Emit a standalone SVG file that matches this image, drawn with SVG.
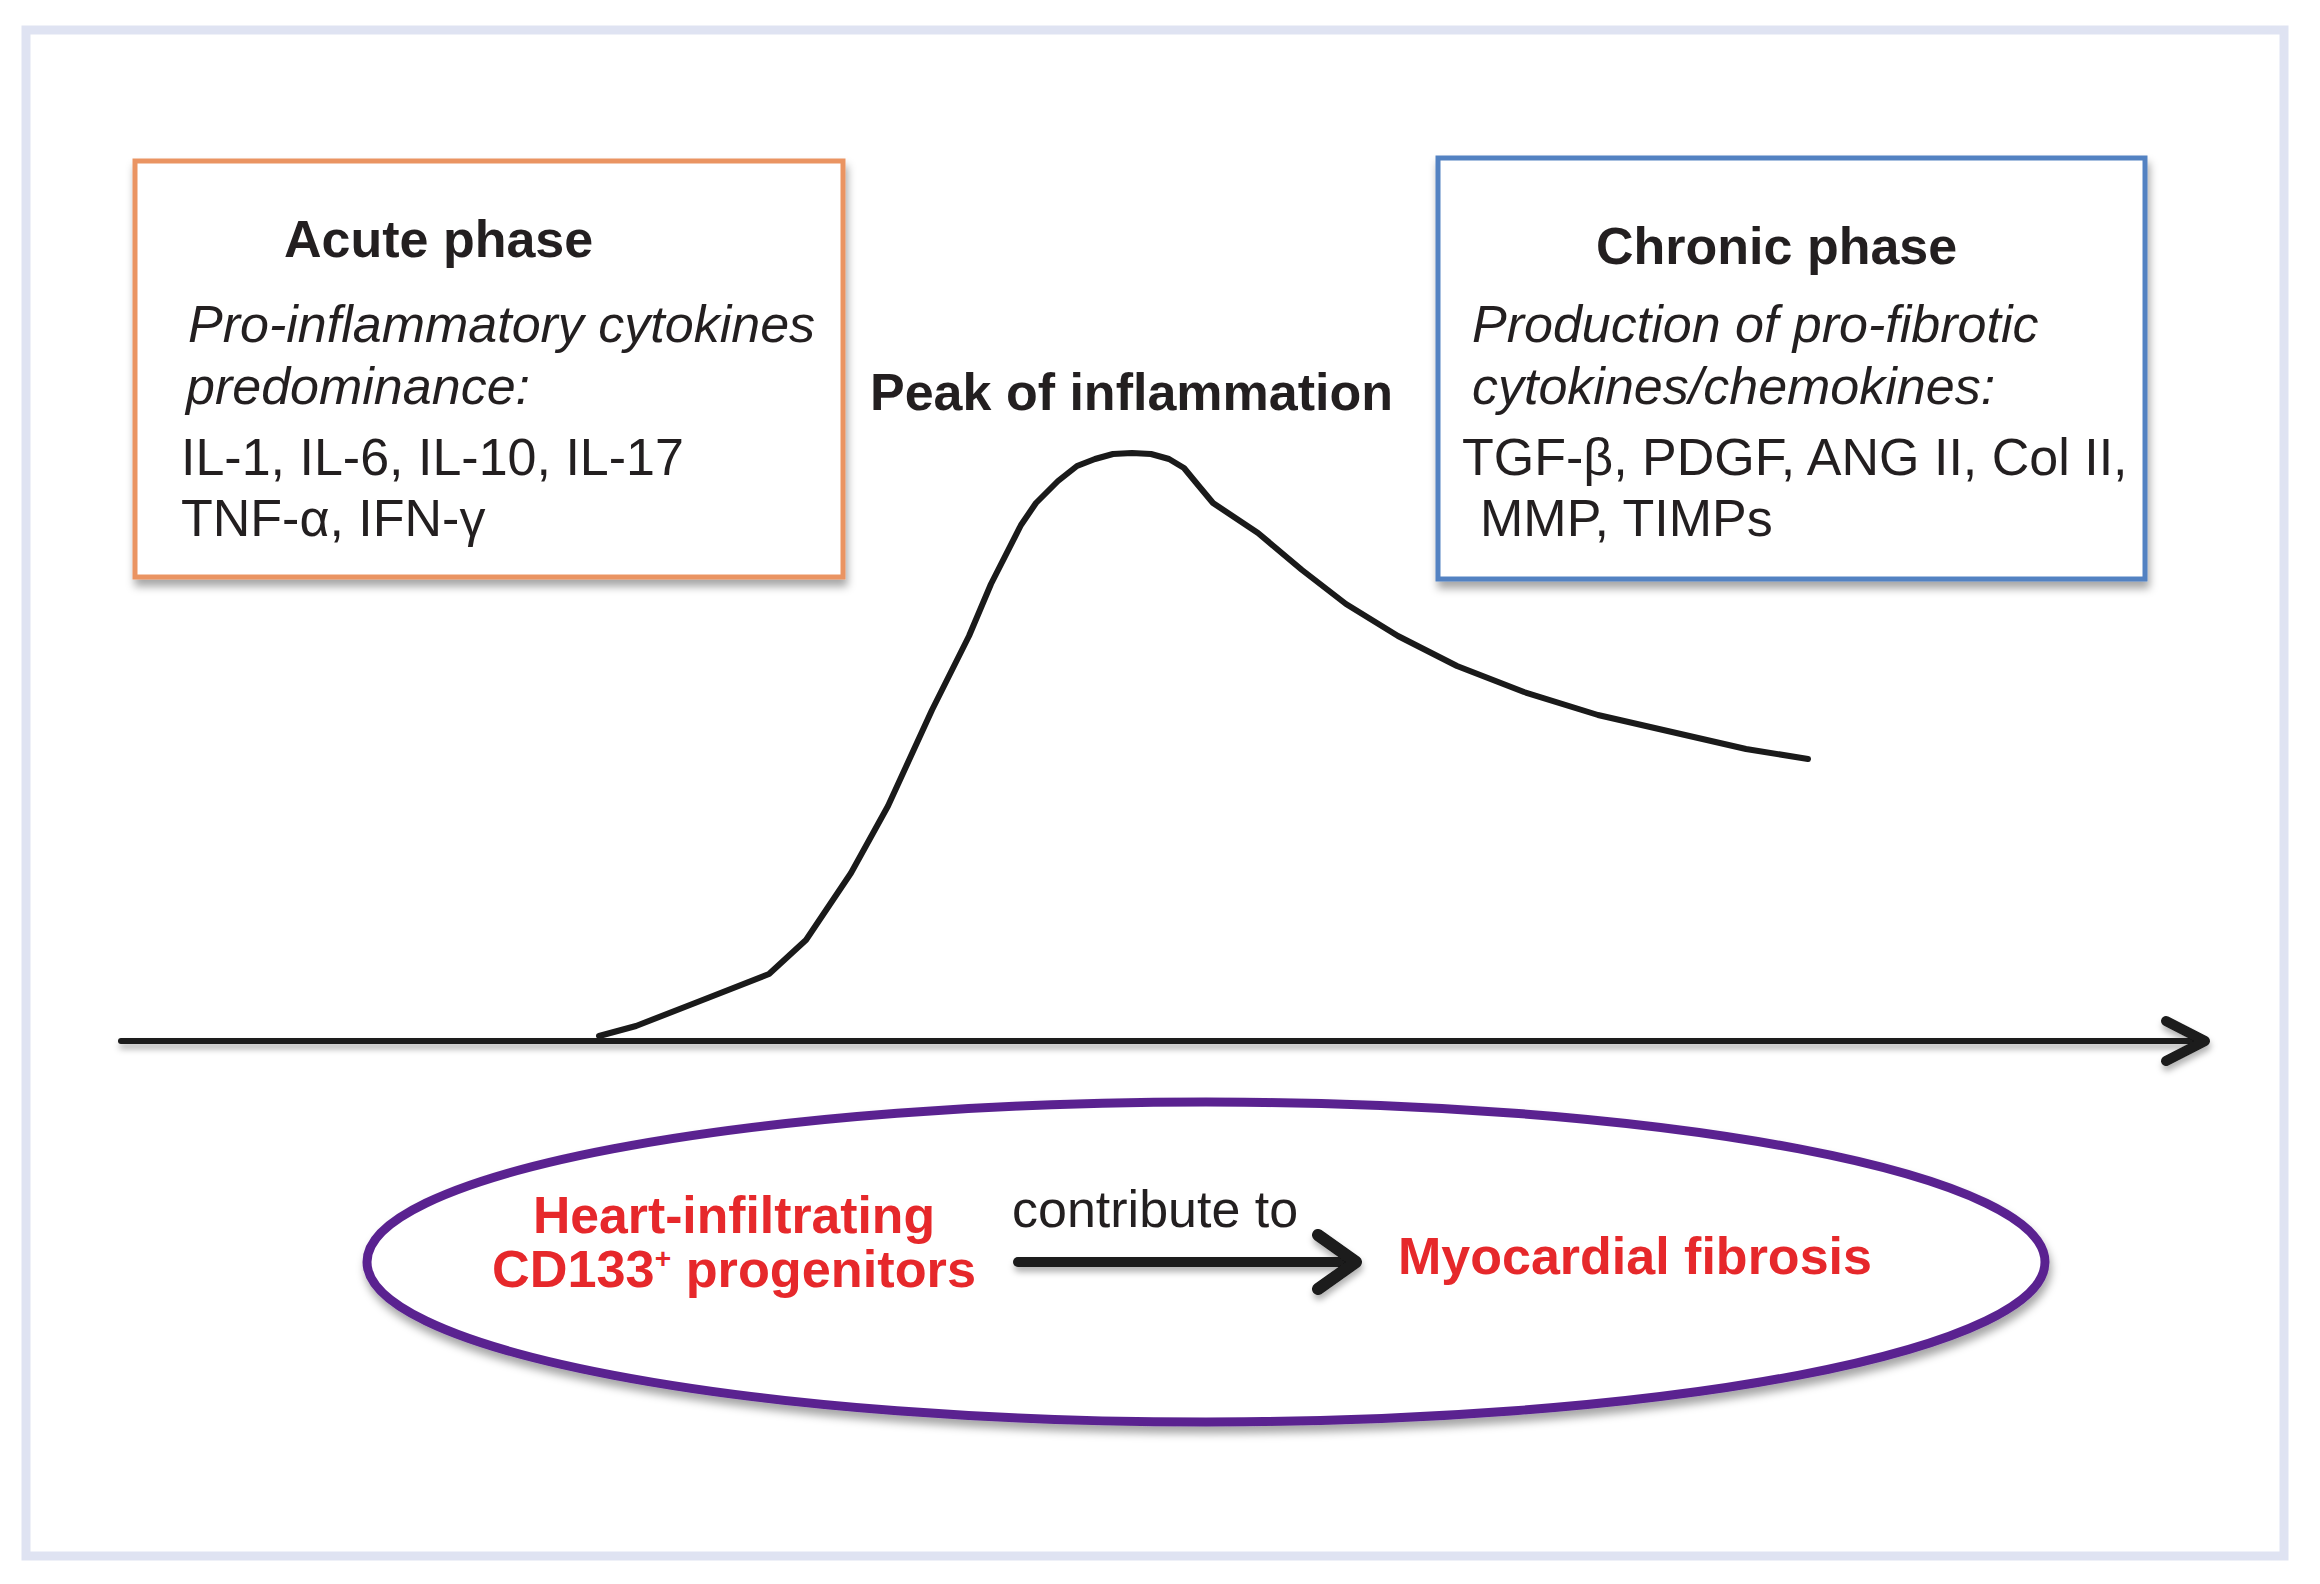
<svg xmlns="http://www.w3.org/2000/svg" width="2320" height="1584" viewBox="0 0 2320 1584">
<style>
.t{font-family:"Liberation Sans",Arial,sans-serif;font-size:52px;fill:#231f20}
.b{font-weight:bold}
.i{font-style:italic}
.red{fill:#e6282b;font-weight:bold}
.box{fill:#fff;stroke-width:5}
.ln{fill:none;stroke:#1a1a1a;stroke-linecap:round;stroke-linejoin:round}
</style>
<defs>
<filter id="sh" x="-10%" y="-10%" width="120%" height="130%">
<feDropShadow dx="2" dy="7" stdDeviation="4" flood-color="#000" flood-opacity="0.35"/>
</filter>
<filter id="shl" x="-5%" y="-100%" width="110%" height="400%">
<feDropShadow dx="1" dy="5" stdDeviation="3" flood-color="#000" flood-opacity="0.3"/>
</filter>
</defs>
<rect x="0" y="0" width="2320" height="1584" fill="#fff"/>
<rect id="frame" x="26" y="30" width="2258" height="1526" fill="#fff" stroke="#dfe3f2" stroke-width="9"/>

<g id="acute-box">
<rect class="box" x="135" y="161" width="708" height="416" stroke="#ea9462" filter="url(#sh)"/>
<text class="t b" x="284" y="257">Acute phase</text>
<text class="t i" x="188" y="342">Pro-inflammatory cytokines</text>
<text class="t i" x="186" y="404">predominance:</text>
<text class="t" x="181" y="475">IL-1, IL-6, IL-10, IL-17</text>
<text class="t" x="181" y="536">TNF-α, IFN-γ</text>
</g>

<g id="chronic-box">
<rect class="box" x="1438" y="158" width="707" height="421" stroke="#5382c2" filter="url(#sh)"/>
<text class="t b" x="1596" y="264">Chronic phase</text>
<text class="t i" x="1472" y="342">Production of pro-fibrotic</text>
<text class="t i" x="1472" y="404">cytokines/chemokines:</text>
<text class="t" x="1462" y="475">TGF-β, PDGF, ANG II, Col II,</text>
<text class="t" x="1480" y="536">MMP, TIMPs</text>
</g>

<g id="peak-label">
<text class="t b" x="870" y="410">Peak of inflammation</text>
</g>

<g id="inflammation-curve">
<polyline class="ln" stroke-width="6" points="599,1036 636,1026 695,1003 769,974 806,940 851,873 888,806 932,710 969,636 991,584 1021,525 1036,503 1058,481 1077,466 1095,459 1113,454 1132,453 1151,454 1169,459 1184,468 1198,485 1213,503 1258,533 1302,570 1346,604 1398,636 1457,666 1524,692 1598,715 1672,732 1746,749 1808,759"/>
</g>

<g id="connectors">
<g id="time-axis" filter="url(#shl)">
<line class="ln" x1="121" y1="1041" x2="2200" y2="1041" stroke-width="6"/>
<polyline class="ln" points="2166,1021 2205,1041 2166,1061" stroke-width="10"/>
</g>
</g>

<g id="progenitor-ellipse">
<ellipse cx="1206" cy="1262" rx="839" ry="160" fill="#fff" stroke="#5a2490" stroke-width="9" filter="url(#sh)"/>
<text class="t red" x="734" y="1233" text-anchor="middle" font-size="48" textLength="402" lengthAdjust="spacingAndGlyphs">Heart-infiltrating</text>
<text class="t red" x="734" y="1287" text-anchor="middle" font-size="48" textLength="484" lengthAdjust="spacingAndGlyphs">CD133<tspan font-size="28" dy="-19">+</tspan><tspan dy="19"> progenitors</tspan></text>
<text class="t" x="1012" y="1227">contribute to</text>
<g id="contribute-arrow" filter="url(#shl)">
<line class="ln" x1="1018" y1="1262" x2="1352" y2="1262" stroke-width="10" stroke-linecap="butt"/>
<polyline class="ln" points="1318,1235 1356,1262 1318,1289" stroke-width="12"/>
</g>
<text class="t red" x="1398" y="1274">Myocardial fibrosis</text>
</g>
</svg>
